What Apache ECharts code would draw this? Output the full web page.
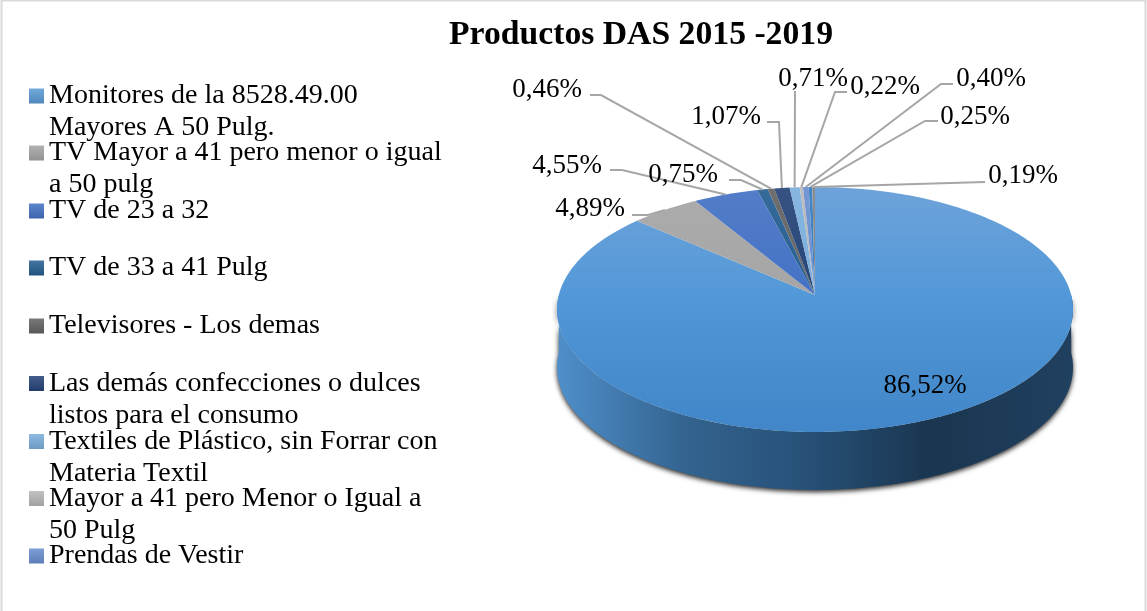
<!DOCTYPE html>
<html>
<head>
<meta charset="utf-8">
<style>html,body{margin:0;padding:0;background:#fff;overflow:hidden}#c{width:1147px;height:611px}</style>
<script src="https://cdn.jsdelivr.net/npm/echarts@6/dist/echarts.min.js"></script>
</head>
<body>
<div id="c"></div>
<script>
// ---- data ----
const titleText = 'Productos DAS 2015 -2019';
const categories = [
  ['Monitores de la 8528.49.00', 'Mayores A 50 Pulg.'],
  ['TV Mayor a 41 pero menor o igual', 'a 50 pulg'],
  ['TV de 23 a 32'],
  ['TV de 33 a 41 Pulg'],
  ['Televisores - Los demas'],
  ['Las demás confecciones o dulces', 'listos para el consumo'],
  ['Textiles de Plástico, sin Forrar con', 'Materia Textil'],
  ['Mayor a 41 pero Menor o Igual a', '50 Pulg'],
  ['Prendas de Vestir'],
  ['Otros productos A'],
  ['Otros productos B']
];
const shares = [86.52, 4.89, 4.55, 0.75, 0.46, 1.07, 0.71, 0.22, 0.40, 0.25, 0.19];
const colors = ['#5b9bd5', '#a5a5a5', '#4472c4', '#255e91', '#636363', '#264478', '#7cafdd', '#b7b7b7', '#698ed0', '#327dc2', '#848484'];

// ---- layout and style ----
const FONT = '"Liberation Serif","Times New Roman",serif';
const legendCenters = [96, 153, 211, 268, 326, 383.5, 441.5, 498.5, 556];
const legendCount = 9;
// label centre and leader path (from label side to the elbow); one per slice
const labelLayout = [
  { x: 925, y: 386, path: [] },
  { x: 590, y: 209, path: [[632, 215], [648, 215]] },
  { x: 567, y: 166, path: [[610, 170], [622, 170]] },
  { x: 683, y: 175, path: [[729, 180], [741, 180]] },
  { x: 547, y: 90,  path: [[590, 95], [601, 95]] },
  { x: 726, y: 117, path: [[767, 122], [779, 122]] },
  { x: 813, y: 79,  path: [[795, 91]] },
  { x: 885, y: 87,  path: [[847, 92], [835, 92]] },
  { x: 991, y: 79,  path: [[953, 84], [941, 84]] },
  { x: 975, y: 117, path: [[938, 121], [925, 121]] },
  { x: 1023, y: 176, path: [[985, 182]] }
];
const apex = { x: 815, y: 295 };
const persp = { d: 256.2, a: 120.8, c: -0.118 };
const depth = 58;

const total = shares.reduce((s, v) => s + v, 0);
function edgePoint(frac) {
  const t = frac * 2 * Math.PI, u = Math.sin(t), v = -Math.cos(t);
  const w = 1 + persp.c * v;
  return [apex.x + persp.d * u / w, apex.y + persp.a * v / w];
}
function arc(f0, f1) {
  const n = Math.max(2, Math.ceil((f1 - f0) * 360));
  const pts = [];
  for (let k = 0; k <= n; k++) pts.push(edgePoint(f0 + (f1 - f0) * k / n));
  return pts;
}
function mix(hex, target, p) {
  const n = parseInt(hex.slice(1), 16);
  const ch = [n >> 16, (n >> 8) & 255, n & 255].map(c => Math.round(c + (target - c) * p));
  return `rgb(${ch[0]},${ch[1]},${ch[2]})`;
}
function faceGradient(index) {
  const c = colors[index];
  const stops = index === 0 ? ['#6ea3d9', '#5298d8', '#4086c8'] : [mix(c, 255, 0.08), c, mix(c, 0, 0.15)];
  return new echarts.graphic.LinearGradient(0, 186, 0, 433, [
    { offset: 0, color: stops[0] },
    { offset: 0.45, color: stops[1] },
    { offset: 1, color: stops[2] }
  ], true);
}
function legendGradient(c) {
  return new echarts.graphic.LinearGradient(0, 0, 0, 1, [
    { offset: 0, color: mix(c, 255, 0.14) },
    { offset: 1, color: mix(c, 0, 0.12) }
  ]);
}
const sideGradient = new echarts.graphic.LinearGradient(0, 0, 1, 0, [
  { offset: 0, color: '#4f8fca' },
  { offset: 0.25, color: '#33638f' },
  { offset: 0.5, color: '#264f75' },
  { offset: 0.72, color: '#1a3650' },
  { offset: 1, color: '#20405f' }
]);

function renderSlice(index) {
  return function (params, api) {
    const value = api.value(0);
    const before = shares.slice(0, index).reduce((s, v) => s + v, 0);
    const f0 = before / total, f1 = (before + value) / total;
    const edge = arc(f0, f1);
    const mid = edgePoint((f0 + f1) / 2);
    const lay = labelLayout[index];
    const children = [
      {
        type: 'polygon', silent: true, z2: 1,
        shape: { points: [[apex.x, apex.y]].concat(edge) },
        style: { fill: faceGradient(index) }
      },
      {
        type: 'text', silent: true, z2: 4,
        style: {
          text: value.toFixed(2).replace('.', ',') + '%',
          x: lay.x, y: lay.y, align: 'center', verticalAlign: 'middle',
          fill: '#000', font: '27px ' + FONT
        }
      }
    ];
    // the wall is only visible on the front half of the pie
    const w0 = Math.max(f0, 0.25), w1 = Math.min(f1, 0.75);
    if (w1 > w0) {
      const front = arc(w0, w1);
      const lower = front.map(p => [p[0], p[1] + depth]).reverse();
      children.push({
        type: 'polygon', silent: true, z2: 0,
        shape: { points: front.concat(lower) },
        style: { fill: sideGradient, shadowBlur: 5, shadowColor: 'rgba(0,0,0,0.85)', shadowOffsetY: 2 }
      });
    }
    if (lay.path.length) {
      children.push({
        type: 'polyline', silent: true, z2: 3,
        shape: { points: lay.path.concat([mid]) },
        style: { fill: null, stroke: '#a6a6a6', lineWidth: 2 }
      });
    }
    return { type: 'group', children };
  };
}

const series = shares.map((v, i) => ({
  type: 'custom',
  name: categories[i].join(' '),
  coordinateSystem: 'none',
  silent: true,
  animation: false,
  itemStyle: { color: legendGradient(colors[i]) },
  renderItem: renderSlice(i),
  data: [[v]]
}));

const legends = categories.slice(0, legendCount).map((lines, i) => {
  const h = lines.length > 1 ? 96 : 32;
  return {
    left: 29,
    top: legendCenters[i] - h / 2,
    padding: 0,
    itemWidth: 15,
    itemHeight: 15,
    selectedMode: false,
    icon: 'rect',
    data: [lines.join(' ')],
    formatter: () => lines.length > 1 ? '\n' + lines.join('\n') : lines[0],
    textStyle: { fontFamily: FONT, fontSize: 28, color: '#000', lineHeight: 32 }
  };
});

const chart = echarts.init(document.getElementById('c'), null, { renderer: 'canvas' });
chart.setOption({
  animation: false,
  backgroundColor: '#fff',
  title: {
    text: titleText,
    left: 449, top: 18, padding: 0,
    textStyle: { fontFamily: FONT, fontSize: 33.7, fontWeight: 'bold', color: '#000' }
  },
  legend: legends,
  graphic: [{
    type: 'rect', silent: true,
    shape: { x: 1.5, y: 0.5, width: 1144, height: 640 },
    style: { fill: null, stroke: '#d9d9d9', lineWidth: 2 }
  }],
  series
});
</script>
</body>
</html>
